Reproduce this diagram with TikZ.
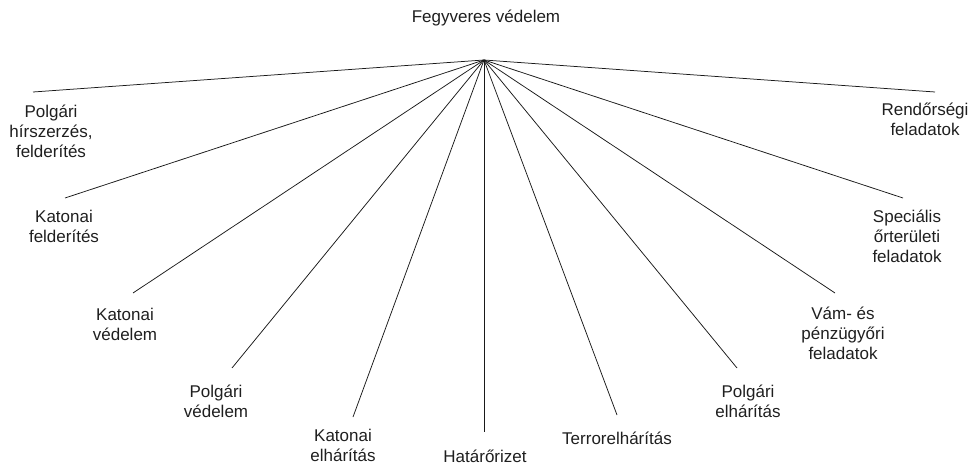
\documentclass[tikz,border=0pt]{standalone}
\usepackage{fontspec}
\setmainfont{Liberation Sans}
\begin{document}
\begin{tikzpicture}[x=1pt,y=-1pt,
  lbl/.style={inner sep=0pt,align=center,font=\fontsize{17}{20}\selectfont,text=black!88},
  conn/.style={line width=0.75pt,draw=black!90}]
\useasboundingbox (0,0) rectangle (976,465);
\node[lbl] (top) at (486,18) {Fegyveres védelem};
\coordinate (hub) at (484,60);
\node[lbl] (phf) at (51,131) {Polgári\\hírszerzés,\\felderítés};
\node[lbl] (kf)  at (64,226) {Katonai\\felderítés};
\node[lbl] (kv)  at (125,324) {Katonai\\védelem};
\node[lbl] (pv)  at (216,401) {Polgári\\védelem};
\node[lbl] (ke)  at (343,445) {Katonai\\elhárítás};
\node[lbl] (ho)  at (485,456) {Határőrizet};
\node[lbl] (te)  at (617,438) {Terrorelhárítás};
\node[lbl] (pe)  at (748,401) {Polgári\\elhárítás};
\node[lbl] (vp)  at (843,333) {Vám- és\\pénzügyőri\\feladatok};
\node[lbl] (so)  at (907,236) {Speciális\\őrterületi\\feladatok};
\node[lbl] (rf)  at (925,119) {Rendőrségi\\feladatok};
\coordinate (e1) at (33,92);
\coordinate (e2) at (65,198);
\coordinate (e3) at (133,293);
\coordinate (e4) at (232,368);
\coordinate (e5) at (353,417);
\coordinate (e6) at (484,432);
\coordinate (e7) at (617,415);
\coordinate (e8) at (737,368);
\coordinate (e9) at (835,293);
\coordinate (e10) at (903,198);
\coordinate (e11) at (935,92);
\foreach \e in {e1,e2,e3,e4,e5,e6,e7,e8,e9,e10,e11}
  \draw[conn] (hub) -- (\e);
\end{tikzpicture}
\end{document}
